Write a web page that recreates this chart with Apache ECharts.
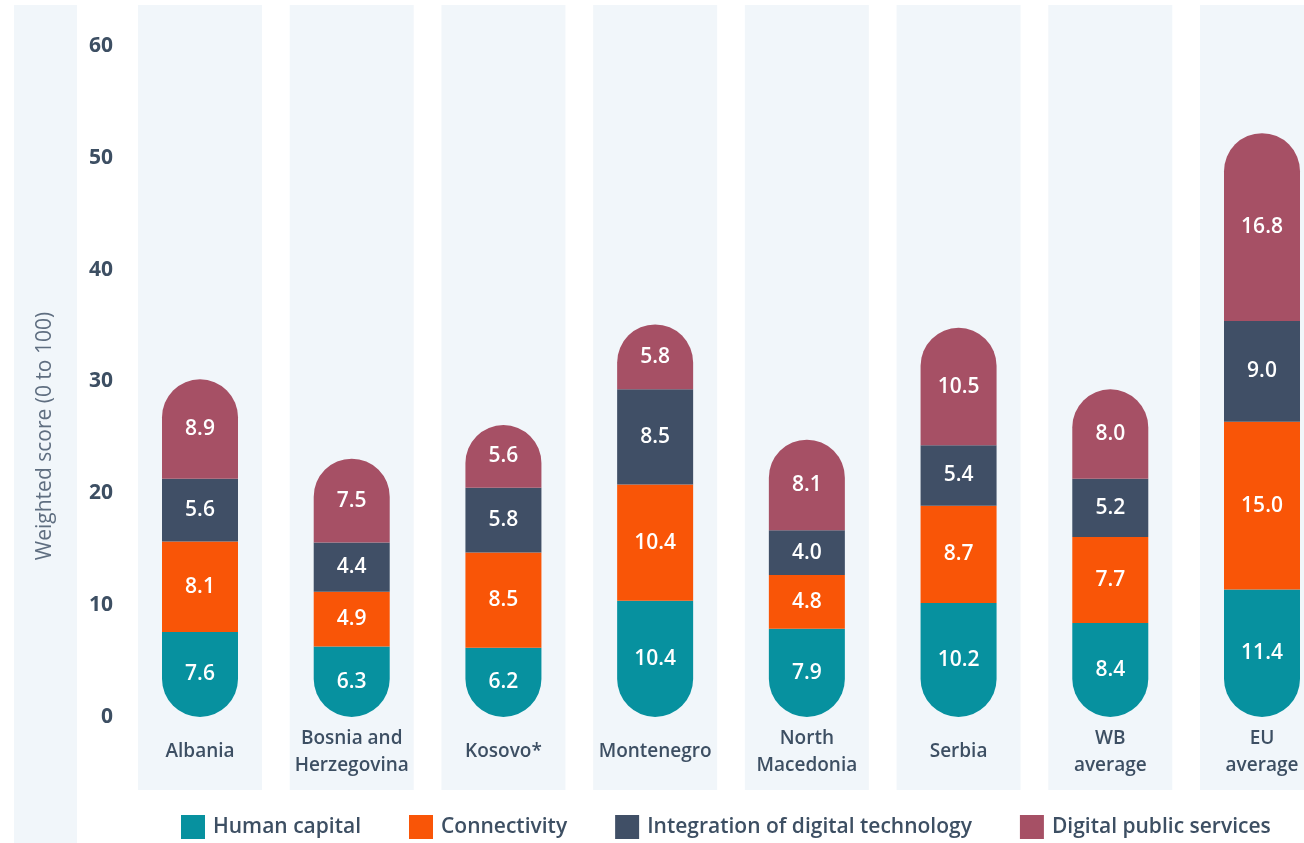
<!DOCTYPE html>
<html>
<head>
<meta charset="utf-8">
<script src="https://cdn.jsdelivr.net/npm/echarts@6/dist/echarts.min.js"></script>
<style>
html,body{margin:0;padding:0;background:#fff;}
#chart{width:1304px;height:843px;}
</style>
</head>
<body>
<div id="chart"></div>
<script>
const categories = ['Albania', 'Bosnia and\nHerzegovina', 'Kosovo*', 'Montenegro', 'North\nMacedonia', 'Serbia', 'WB\naverage', 'EU\naverage'];
const humanCapital = [7.6, 6.3, 6.2, 10.4, 7.9, 10.2, 8.4, 11.4];
const connectivity = [8.1, 4.9, 8.5, 10.4, 4.8, 8.7, 7.7, 15.0];
const integration = [5.6, 4.4, 5.8, 8.5, 4.0, 5.4, 5.2, 9.0];
const publicServices = [8.9, 7.5, 5.6, 5.8, 8.1, 10.5, 8.0, 16.8];
const seriesNames = ['Human capital', 'Connectivity', 'Integration of digital technology', 'Digital public services'];
const colors = ['#07919f', '#f95507', '#404f66', '#a65065'];
const yTicks = {min: 0, max: 60, interval: 10};

const FONT = '"Open Sans", "Noto Sans", sans-serif';
const chart = echarts.init(document.getElementById('chart'));

const valueLabel = {
  show: true, position: 'inside', color: '#ffffff', fontSize: 21, fontWeight: 600,
  fontFamily: FONT, formatter: p => Number(p.value).toFixed(1)
};
const R = 38;
function seg(i, data, radius) {
  return {
    name: seriesNames[i], type: 'bar', stack: 'total', data: data,
    xAxisIndex: 0, yAxisIndex: 0, barWidth: 76, z: 3,
    itemStyle: {color: colors[i], borderRadius: radius},
    label: valueLabel, emphasis: {disabled: true}
  };
}

chart.setOption({
  animation: false,
  color: colors,
  textStyle: {fontFamily: FONT},
  graphic: [
    {type: 'rect', z: -10, shape: {x: 14, y: 5, width: 63, height: 838}, style: {fill: '#f1f6fa'}},
    {type: 'text', z: 10, x: 45, y: 436, rotation: Math.PI / 2,
     style: {text: 'Weighted score (0 to 100)', fill: '#5f6e80', fontSize: 21, fontFamily: FONT,
             align: 'center', verticalAlign: 'middle'}}
  ],
  grid: [
    {left: 200, width: 1062, top: 46, height: 671},
    {left: 200, width: 1062, top: 5, height: 785}
  ],
  legend: {
    data: seriesNames, left: 181, top: 815, padding: 0, itemWidth: 24, itemHeight: 24, itemGap: 48,
    icon: 'rect',
    textStyle: {fontSize: 21, color: '#3d4f63', fontWeight: 600, fontFamily: FONT, padding: [0, 0, 0, 3]}
  },
  xAxis: [
    {type: 'category', gridIndex: 0, data: categories, boundaryGap: false,
     axisLine: {show: false}, axisTick: {show: false}, splitLine: {show: false},
     axisLabel: {margin: 35, verticalAlign: 'middle', color: '#3d4f63', fontSize: 19, fontWeight: 600,
                 lineHeight: 27, fontFamily: FONT, interval: 0}},
    {type: 'category', gridIndex: 1, data: categories, boundaryGap: false, show: false}
  ],
  yAxis: [
    {type: 'value', gridIndex: 0, min: yTicks.min, max: yTicks.max, interval: yTicks.interval,
     axisLine: {show: false}, axisTick: {show: false}, splitLine: {show: false},
     axisLabel: {margin: 87, color: '#3d4f63', fontSize: 21, fontWeight: 700, fontFamily: FONT}},
    {type: 'value', gridIndex: 1, min: 0, max: 1, show: false}
  ],
  series: [
    {type: 'bar', xAxisIndex: 1, yAxisIndex: 1, data: categories.map(() => 1), barWidth: 124,
     itemStyle: {color: '#f1f6fa'}, silent: true, z: 0, legendHoverLink: false},
    seg(0, humanCapital, [0, 0, R, R]),
    seg(1, connectivity, 0),
    seg(2, integration, 0),
    seg(3, publicServices, [R, R, 0, 0])
  ]
});
</script>
</body>
</html>
